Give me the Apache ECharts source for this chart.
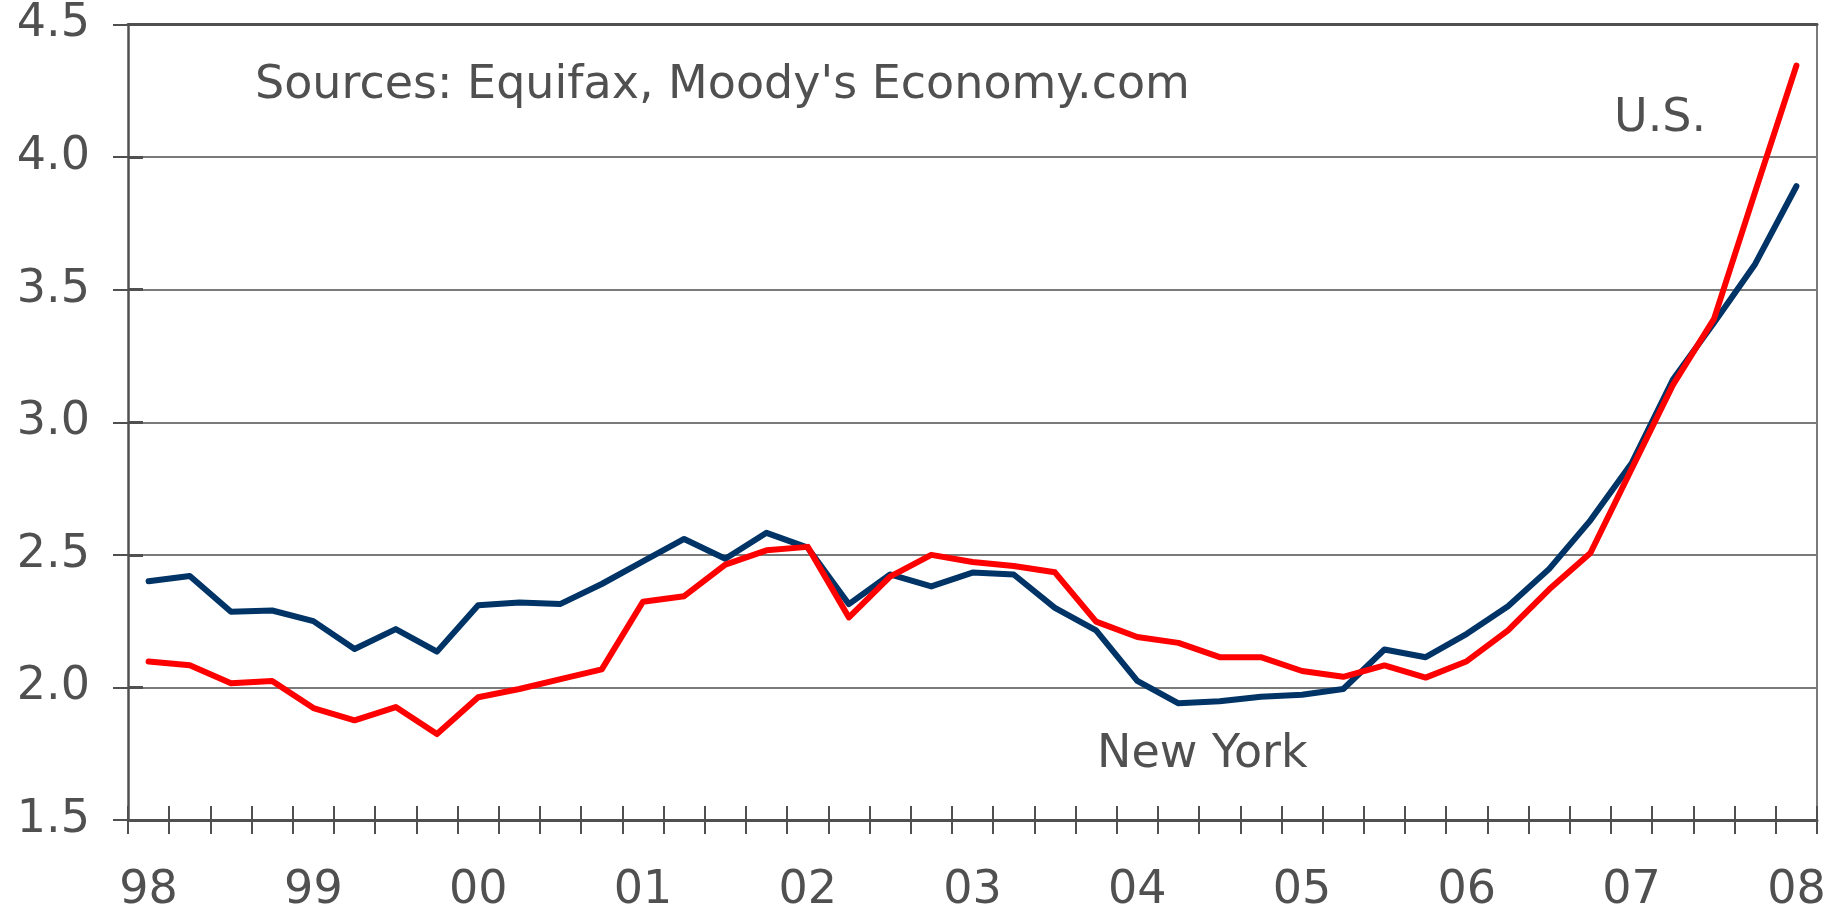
<!DOCTYPE html>
<html>
<head>
<meta charset="utf-8">
<script src="https://cdn.jsdelivr.net/npm/echarts@6/dist/echarts.min.js"></script>
<style>html,body{margin:0;padding:0;background:#fff;}#c{width:1843px;height:908px;}</style>
</head>
<body>
<div id="c"></div>
<script>
var yearLabels = ['98','99','00','01','02','03','04','05','06','07','08'];
var quarters = ['Q1','Q2','Q3','Q4'];
var newYork = [2.40,2.42,2.285,2.29,2.25,2.145,2.22,2.135,2.31,2.32,2.315,2.39,2.475,2.56,2.485,2.583,2.527,2.314,2.426,2.381,2.433,2.426,2.30,2.215,2.025,1.94,1.948,1.965,1.972,1.994,2.143,2.114,2.202,2.306,2.447,2.63,2.845,3.16,3.375,3.597,3.89];
var us = [2.098,2.084,2.016,2.024,1.922,1.876,1.926,1.824,1.963,1.994,2.031,2.068,2.323,2.344,2.463,2.517,2.53,2.264,2.418,2.50,2.473,2.458,2.434,2.248,2.19,2.168,2.114,2.114,2.062,2.04,2.083,2.037,2.099,2.215,2.37,2.507,2.824,3.14,3.39,3.87,4.345];
var sourceText = "Sources: Equifax, Moody's Economy.com";

var categories = [];
for (var i = 0; i < yearLabels.length; i++) {
  for (var q = 0; q < 4; q++) {
    if (i === yearLabels.length - 1 && q > 0) break;
    categories.push(yearLabels[i] + ' ' + quarters[q]);
  }
}

var FONT = 'DejaVu Sans';
var FS = 46;
var TXT = '#505050';
var chart = echarts.init(document.getElementById('c'), null, {renderer: 'canvas'});
chart.setOption({
  animation: false,
  backgroundColor: '#fff',
  grid: {left: 128, right: 26, top: 24.5, bottom: 88, containLabel: false, outerBoundsMode: 'none'},
  xAxis: [
    {type: 'category', data: categories, position: 'bottom', boundaryGap: true,
     axisLine: {show: true, lineStyle: {color: '#505050', width: 3}},
     axisTick: {show: true, inside: false, length: 14, interval: 0, lineStyle: {color: '#505050', width: 2}},
     axisLabel: {show: true, interval: 3, margin: 48, color: TXT, fontFamily: FONT, fontSize: FS,
       formatter: function (v) { return v.split(' ')[0]; }},
     splitLine: {show: false}},
    {type: 'category', data: categories, position: 'bottom', boundaryGap: true,
     axisLine: {show: false},
     axisTick: {show: true, inside: true, length: 14, interval: 0, lineStyle: {color: '#505050', width: 2}},
     axisLabel: {show: false}, splitLine: {show: false}},
    {type: 'category', data: categories, position: 'top', boundaryGap: true,
     axisLine: {show: true, lineStyle: {color: '#505050', width: 3}},
     axisTick: {show: false}, axisLabel: {show: false}, splitLine: {show: false}}
  ],
  yAxis: [
    {type: 'value', min: 1.5, max: 4.5, interval: 0.5, position: 'left',
     axisLine: {show: true, lineStyle: {color: '#505050', width: 2.5}},
     axisTick: {show: true, inside: false, length: 15, lineStyle: {color: '#505050', width: 2}},
     axisLabel: {show: true, margin: 38, color: TXT, fontFamily: FONT, fontSize: FS,
       formatter: function (v) { return v.toFixed(1); }},
     splitLine: {show: true, lineStyle: {color: '#7a7a7a', width: 2}}},
    {type: 'value', min: 1.5, max: 4.5, interval: 0.5, position: 'left',
     axisLine: {show: false},
     axisTick: {show: true, inside: true, length: 15, lineStyle: {color: '#505050', width: 3}},
     axisLabel: {show: false}, splitLine: {show: false}},
    {type: 'value', min: 1.5, max: 4.5, interval: 0.5, position: 'right',
     axisLine: {show: true, lineStyle: {color: '#7a7a7a', width: 2}},
     axisTick: {show: false}, axisLabel: {show: false}, splitLine: {show: false}}
  ],
  series: [
    {name: 'New York', type: 'line', data: newYork, xAxisIndex: 0, yAxisIndex: 0,
     showSymbol: false, symbol: 'none', lineStyle: {color: '#003366', width: 6, cap: 'round', join: 'round'}, z: 3},
    {name: 'U.S.', type: 'line', data: us, xAxisIndex: 0, yAxisIndex: 0,
     showSymbol: false, symbol: 'none', lineStyle: {color: '#ff0000', width: 6, cap: 'round', join: 'round'}, z: 4}
  ],
  graphic: [
    {type: 'text', left: 255, top: 63, style: {text: sourceText, fill: TXT, font: FS + 'px "DejaVu Sans"'}},
    {type: 'text', left: 1614, top: 96, style: {text: 'U.S.', fill: TXT, font: FS + 'px "DejaVu Sans"'}},
    {type: 'text', left: 1097, top: 732, style: {text: 'New York', fill: TXT, font: FS + 'px "DejaVu Sans"'}}
  ]
});
</script>
</body>
</html>
